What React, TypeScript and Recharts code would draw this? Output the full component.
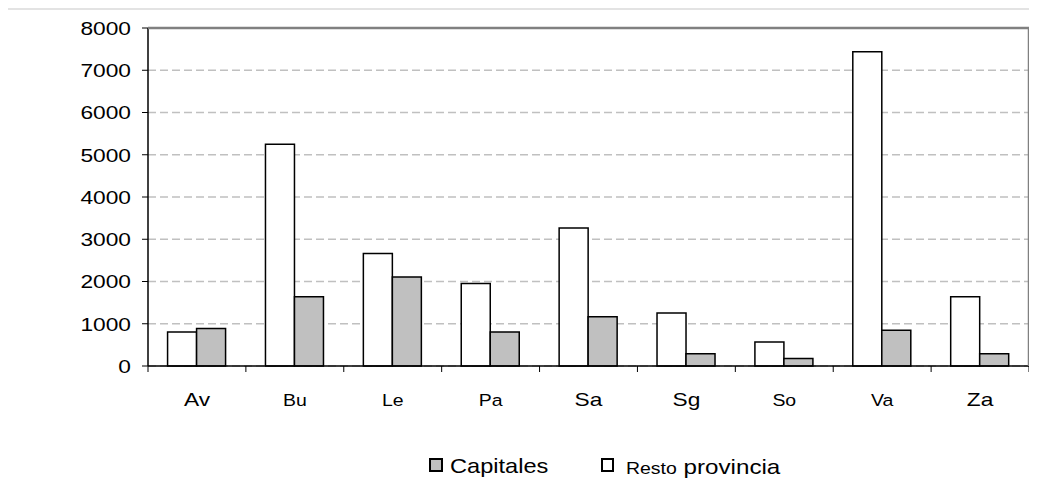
import React from 'react';
import { BarChart, Bar, XAxis, YAxis, CartesianGrid, Legend, ReferenceLine } from 'recharts';

const categories = ['Av', 'Bu', 'Le', 'Pa', 'Sa', 'Sg', 'So', 'Va', 'Za'];
const restoProvincia = [805, 5250, 2665, 1955, 3265, 1255, 570, 7440, 1640];
const capitales = [890, 1640, 2105, 805, 1165, 290, 180, 845, 290];
const yTicks = [0, 1000, 2000, 3000, 4000, 5000, 6000, 7000, 8000];
const edgeTicks = [0, 1, 2, 3, 4, 5, 6, 7, 8, 9];

const data = categories.map((c, i) => ({
  name: c,
  slot: i + 0.5,
  resto: restoProvincia[i],
  capitales: capitales[i],
}));

const FONT = '"Liberation Sans", Arial, sans-serif';
const SX = 1.18;
const BIG_LABELS = new Set(['Av', 'Sa', 'Sg', 'Za']);

const YTick = (props: any) => {
  const { x, y, payload } = props;
  return (
    <g>
      <line x1={x + 2} y1={y} x2={x + 8} y2={y} stroke="#000" strokeWidth={1} />
      <g transform={`translate(${x - 9},${y}) scale(${SX},1)`}>
        <text x={0} y={0} dy="0.355em" textAnchor="end" fontSize={19.25} fontFamily={FONT} fill="#000">
          {payload.value}
        </text>
      </g>
    </g>
  );
};

const EdgeTick = (props: any) => {
  const { x, y } = props;
  return <line x1={x} y1={y - 8} x2={x} y2={y - 2} stroke="#000" strokeWidth={1} />;
};

const XTick = (props: any) => {
  const { x, y, payload } = props;
  const big = BIG_LABELS.has(payload.value);
  return (
    <g transform={`translate(${x},${y + 39}) scale(${SX},1)`}>
      <text x={0} y={0} textAnchor="middle" fontSize={big ? 19.25 : 16.5} fontFamily={FONT} fill="#000">
        {payload.value}
      </text>
    </g>
  );
};

const LegendContent = () => (
  <svg width={1029} height={32} style={{ display: 'block' }}>
    <rect x={422} y={10} width={12} height={12} fill="#c0c0c0" stroke="#000" strokeWidth={2} />
    <g transform={`translate(442,24) scale(${SX},1)`}>
      <text x={0} y={0} fontSize={20} fontFamily={FONT} fill="#000">Capitales</text>
    </g>
    <rect x={594} y={10} width={11} height={12} fill="#fff" stroke="#000" strokeWidth={2} />
    <g transform={`translate(618,25) scale(${SX},1)`}>
      <text x={0} y={0} fontFamily={FONT} fill="#000">
        <tspan fontSize={16.5}>Resto</tspan>
        <tspan fontSize={20.5}> provincia</tspan>
      </text>
    </g>
  </svg>
);

export default function App() {
  return (
    <div style={{ position: 'relative', width: 1029, height: 481, fontFamily: FONT }}>
      <div style={{ position: 'absolute', left: -2, top: 0, width: 1031, height: 2, background: '#e3e3e3' }} />
      <div style={{ position: 'absolute', left: -2, top: 0, width: 2, height: 481, background: '#e3e3e3' }} />
      <BarChart
        width={1029}
        height={481}
        data={data}
        margin={{ top: 19, right: 7, left: 0, bottom: 89 }}
        barCategoryGap="20%"
        barGap={0}
      >
        <CartesianGrid xAxisId="cat" vertical={false} stroke="#c0c0c0" strokeDasharray="8 4" strokeWidth={1.5} />
        <XAxis
          xAxisId="aEdge"
          dataKey="slot"
          type="number"
          domain={[0, 9]}
          ticks={edgeTicks}
          allowDataOverflow
          height={1}
          interval={0}
          tick={<EdgeTick />}
          tickLine={false}
          axisLine={false}
        />
        <XAxis
          xAxisId="cat"
          dataKey="name"
          height={1}
          axisLine={false}
          tickLine={false}
          tickSize={0}
          tickMargin={0}
          interval={0}
          tick={<XTick />}
        />
        <XAxis
          xAxisId="top"
          dataKey="slot"
          orientation="top"
          type="number"
          domain={[0, 9]}
          allowDataOverflow
          height={1}
          tick={false}
          tickLine={false}
          axisLine={{ stroke: '#808080', strokeWidth: 2.5 }}
        />
        <YAxis
          domain={[0, 8000]}
          ticks={yTicks}
          width={140}
          interval={0}
          tick={<YTick />}
          tickLine={false}
          axisLine={false}
        />
        <YAxis
          yAxisId="right"
          orientation="right"
          domain={[0, 8000]}
          allowDataOverflow
          width={1}
          tick={false}
          tickLine={false}
          axisLine={{ stroke: '#808080', strokeWidth: 2.5 }}
        />
        <Legend verticalAlign="bottom" height={32} wrapperStyle={{ bottom: 8 }} content={<LegendContent />} />
        <Bar xAxisId="cat" dataKey="resto" name="Resto provincia" fill="#ffffff" stroke="#000" strokeWidth={1.5} isAnimationActive={false} />
        <Bar xAxisId="cat" dataKey="capitales" name="Capitales" fill="#c0c0c0" stroke="#000" strokeWidth={1.5} isAnimationActive={false} />
        <ReferenceLine xAxisId="aEdge" x={0} stroke="#000" strokeWidth={1.5} />
        <ReferenceLine xAxisId="aEdge" y={0} stroke="#000" strokeWidth={1.5} />
      </BarChart>
    </div>
  );
}
